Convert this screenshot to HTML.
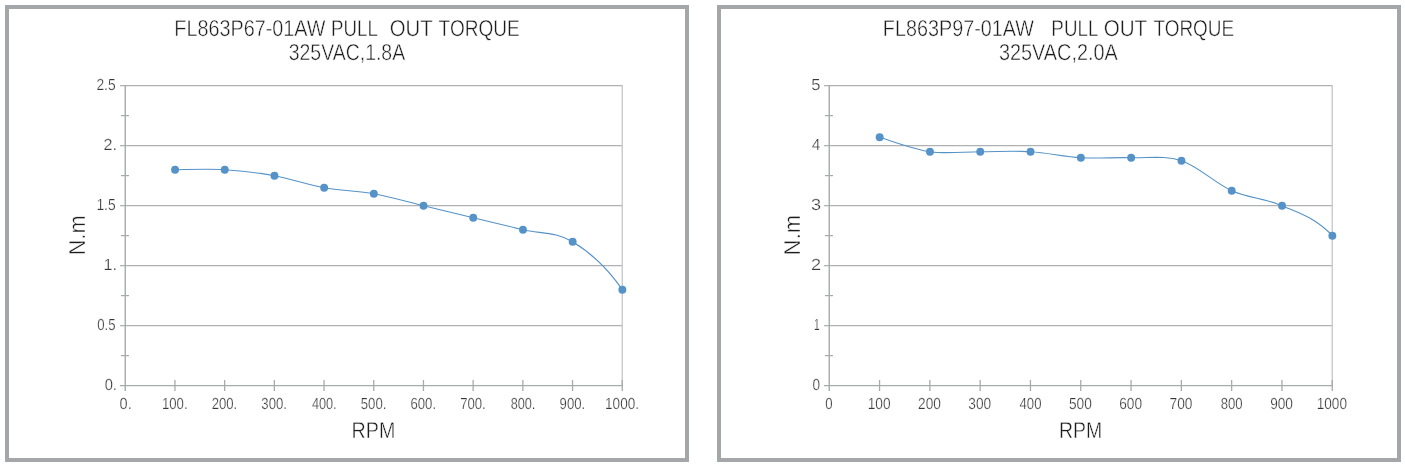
<!DOCTYPE html>
<html><head><meta charset="utf-8"><style>
html,body{margin:0;padding:0;background:#fff;width:1405px;height:467px;overflow:hidden}
svg{display:block;font-family:"Liberation Sans",sans-serif;text-rendering:geometricPrecision}
</style></head><body>
<svg width="1405" height="467" viewBox="0 0 1405 467">
<rect width="1405" height="467" fill="#fff"/>
<g style="will-change:transform">
<rect x="7" y="7" width="680" height="453" fill="none" stroke="#a5a6aa" stroke-width="4"/>
<line x1="120" y1="85.6" x2="622.25" y2="85.6" stroke="#b0b1b5" stroke-width="1.2"/>
<line x1="120" y1="145.6" x2="622.25" y2="145.6" stroke="#b0b1b5" stroke-width="1.2"/>
<line x1="120" y1="205.6" x2="622.25" y2="205.6" stroke="#b0b1b5" stroke-width="1.2"/>
<line x1="120" y1="265.6" x2="622.25" y2="265.6" stroke="#b0b1b5" stroke-width="1.2"/>
<line x1="120" y1="325.6" x2="622.25" y2="325.6" stroke="#b0b1b5" stroke-width="1.2"/>
<line x1="622.25" y1="85" x2="622.25" y2="385" stroke="#c9cacd" stroke-width="1.4"/>
<line x1="120" y1="385.6" x2="622.95" y2="385.6" stroke="#a9aaae" stroke-width="1.2"/>
<line x1="125.25" y1="85" x2="125.25" y2="391" stroke="#a9aaae" stroke-width="1.4"/>
<line x1="121" y1="115.6" x2="129" y2="115.6" stroke="#a9aaae" stroke-width="1.2"/>
<line x1="121" y1="175.6" x2="129" y2="175.6" stroke="#a9aaae" stroke-width="1.2"/>
<line x1="121" y1="235.6" x2="129" y2="235.6" stroke="#a9aaae" stroke-width="1.2"/>
<line x1="121" y1="295.6" x2="129" y2="295.6" stroke="#a9aaae" stroke-width="1.2"/>
<line x1="121" y1="355.6" x2="129" y2="355.6" stroke="#a9aaae" stroke-width="1.2"/>
<line x1="174.95" y1="380" x2="174.95" y2="391" stroke="#a9aaae" stroke-width="1.3"/>
<line x1="224.65" y1="380" x2="224.65" y2="391" stroke="#a9aaae" stroke-width="1.3"/>
<line x1="274.35" y1="380" x2="274.35" y2="391" stroke="#a9aaae" stroke-width="1.3"/>
<line x1="324.05" y1="380" x2="324.05" y2="391" stroke="#a9aaae" stroke-width="1.3"/>
<line x1="373.75" y1="380" x2="373.75" y2="391" stroke="#a9aaae" stroke-width="1.3"/>
<line x1="423.45" y1="380" x2="423.45" y2="391" stroke="#a9aaae" stroke-width="1.3"/>
<line x1="473.15" y1="380" x2="473.15" y2="391" stroke="#a9aaae" stroke-width="1.3"/>
<line x1="522.85" y1="380" x2="522.85" y2="391" stroke="#a9aaae" stroke-width="1.3"/>
<line x1="572.55" y1="380" x2="572.55" y2="391" stroke="#a9aaae" stroke-width="1.3"/>
<line x1="622.25" y1="380" x2="622.25" y2="391" stroke="#a9aaae" stroke-width="1.3"/>
<text transform="translate(104.64,390) scale(0.9182,1)" font-size="16" fill="#383838" xml:space="preserve" stroke="#fff" stroke-width="0.25">0.</text>
<text transform="translate(97.29,330) scale(0.8238,1)" font-size="16" fill="#383838" xml:space="preserve" stroke="#fff" stroke-width="0.25">0.5</text>
<text transform="translate(103.58,270) scale(1.0100,1)" font-size="16" fill="#383838" xml:space="preserve" stroke="#fff" stroke-width="0.25">1.</text>
<text transform="translate(96.40,210) scale(0.8650,1)" font-size="16" fill="#383838" xml:space="preserve" stroke="#fff" stroke-width="0.25">1.5</text>
<text transform="translate(103.58,150) scale(1.0100,1)" font-size="16" fill="#383838" xml:space="preserve" stroke="#fff" stroke-width="0.25">2.</text>
<text transform="translate(96.40,90) scale(0.8650,1)" font-size="16" fill="#383838" xml:space="preserve" stroke="#fff" stroke-width="0.25">2.5</text>
<text transform="translate(119.55,408.6) scale(0.9091,1)" font-size="16" fill="#383838" xml:space="preserve" stroke="#fff" stroke-width="0.25">0.</text>
<text transform="translate(161.97,408.6) scale(0.8214,1)" font-size="16" fill="#383838" xml:space="preserve" stroke="#fff" stroke-width="0.25">100.</text>
<text transform="translate(211.67,408.6) scale(0.8214,1)" font-size="16" fill="#383838" xml:space="preserve" stroke="#fff" stroke-width="0.25">200.</text>
<text transform="translate(261.37,408.6) scale(0.8214,1)" font-size="16" fill="#383838" xml:space="preserve" stroke="#fff" stroke-width="0.25">300.</text>
<text transform="translate(311.90,408.6) scale(0.7931,1)" font-size="16" fill="#383838" xml:space="preserve" stroke="#fff" stroke-width="0.25">400.</text>
<text transform="translate(360.77,408.6) scale(0.8214,1)" font-size="16" fill="#383838" xml:space="preserve" stroke="#fff" stroke-width="0.25">500.</text>
<text transform="translate(410.47,408.6) scale(0.8214,1)" font-size="16" fill="#383838" xml:space="preserve" stroke="#fff" stroke-width="0.25">600.</text>
<text transform="translate(460.17,408.6) scale(0.8214,1)" font-size="16" fill="#383838" xml:space="preserve" stroke="#fff" stroke-width="0.25">700.</text>
<text transform="translate(510.70,408.6) scale(0.7931,1)" font-size="16" fill="#383838" xml:space="preserve" stroke="#fff" stroke-width="0.25">800.</text>
<text transform="translate(559.57,408.6) scale(0.8214,1)" font-size="16" fill="#383838" xml:space="preserve" stroke="#fff" stroke-width="0.25">900.</text>
<text transform="translate(605.08,408.6) scale(0.8459,1)" font-size="16" fill="#383838" xml:space="preserve" stroke="#fff" stroke-width="0.25">1000.</text>
<text transform="translate(174.35,35.7) scale(0.8610,1)" font-size="23" fill="#1c1c1c" xml:space="preserve" stroke="#fff" stroke-width="0.45">FL863P67-01AW</text>
<text transform="translate(330.96,35.7) scale(0.8148,1)" font-size="23" fill="#1c1c1c" xml:space="preserve" stroke="#fff" stroke-width="0.45">PULL</text>
<text transform="translate(389.67,35.7) scale(0.8848,1)" font-size="23" fill="#1c1c1c" xml:space="preserve" stroke="#fff" stroke-width="0.45">OUT</text>
<text transform="translate(438.59,35.7) scale(0.8292,1)" font-size="23" fill="#1c1c1c" xml:space="preserve" stroke="#fff" stroke-width="0.45">TORQUE</text>
<text transform="translate(288.73,60.3) scale(0.8456,1)" font-size="23" fill="#1c1c1c" xml:space="preserve" stroke="#fff" stroke-width="0.45">325VAC,1.8A</text>
<text transform="translate(85,255.37) rotate(-90) scale(0.9474,1)" font-size="23" fill="#1c1c1c" stroke="#fff" stroke-width="0.45">N.m</text>
<text transform="translate(351.56,438) scale(0.8574,1)" font-size="23" fill="#1c1c1c" xml:space="preserve" stroke="#fff" stroke-width="0.45">RPM</text>
<path d="M175.05,169.70 C183.33,169.70 208.18,168.70 224.75,169.70 C241.32,170.70 257.88,172.70 274.45,175.70 C291.02,178.70 307.58,184.70 324.15,187.70 C340.72,190.70 357.28,190.70 373.85,193.70 C390.42,196.70 406.98,201.70 423.55,205.70 C440.12,209.70 456.68,213.70 473.25,217.70 C489.82,221.70 506.38,225.70 522.95,229.70 C539.52,233.70 556.08,231.70 572.65,241.70 C589.22,251.70 605.78,265.70 622.35,289.70" fill="none" stroke="#5592c8" stroke-width="1.15"/>
<circle cx="175.05" cy="169.70" r="3.95" fill="#5592c8"/>
<circle cx="224.75" cy="169.70" r="3.95" fill="#5592c8"/>
<circle cx="274.45" cy="175.70" r="3.95" fill="#5592c8"/>
<circle cx="324.15" cy="187.70" r="3.95" fill="#5592c8"/>
<circle cx="373.85" cy="193.70" r="3.95" fill="#5592c8"/>
<circle cx="423.55" cy="205.70" r="3.95" fill="#5592c8"/>
<circle cx="473.25" cy="217.70" r="3.95" fill="#5592c8"/>
<circle cx="522.95" cy="229.70" r="3.95" fill="#5592c8"/>
<circle cx="572.65" cy="241.70" r="3.95" fill="#5592c8"/>
<circle cx="622.35" cy="289.70" r="3.95" fill="#5592c8"/>
<rect x="719" y="7" width="680" height="453" fill="none" stroke="#a5a6aa" stroke-width="4"/>
<line x1="824" y1="85.6" x2="1332.25" y2="85.6" stroke="#b0b1b5" stroke-width="1.2"/>
<line x1="824" y1="145.6" x2="1332.25" y2="145.6" stroke="#b0b1b5" stroke-width="1.2"/>
<line x1="824" y1="205.6" x2="1332.25" y2="205.6" stroke="#b0b1b5" stroke-width="1.2"/>
<line x1="824" y1="265.6" x2="1332.25" y2="265.6" stroke="#b0b1b5" stroke-width="1.2"/>
<line x1="824" y1="325.6" x2="1332.25" y2="325.6" stroke="#b0b1b5" stroke-width="1.2"/>
<line x1="1332.25" y1="85" x2="1332.25" y2="385" stroke="#c9cacd" stroke-width="1.4"/>
<line x1="824" y1="385.6" x2="1332.95" y2="385.6" stroke="#a9aaae" stroke-width="1.2"/>
<line x1="829.25" y1="85" x2="829.25" y2="391" stroke="#a9aaae" stroke-width="1.4"/>
<line x1="825" y1="115.6" x2="833" y2="115.6" stroke="#a9aaae" stroke-width="1.2"/>
<line x1="825" y1="175.6" x2="833" y2="175.6" stroke="#a9aaae" stroke-width="1.2"/>
<line x1="825" y1="235.6" x2="833" y2="235.6" stroke="#a9aaae" stroke-width="1.2"/>
<line x1="825" y1="295.6" x2="833" y2="295.6" stroke="#a9aaae" stroke-width="1.2"/>
<line x1="825" y1="355.6" x2="833" y2="355.6" stroke="#a9aaae" stroke-width="1.2"/>
<line x1="879.55" y1="380" x2="879.55" y2="391" stroke="#a9aaae" stroke-width="1.3"/>
<line x1="929.85" y1="380" x2="929.85" y2="391" stroke="#a9aaae" stroke-width="1.3"/>
<line x1="980.15" y1="380" x2="980.15" y2="391" stroke="#a9aaae" stroke-width="1.3"/>
<line x1="1030.45" y1="380" x2="1030.45" y2="391" stroke="#a9aaae" stroke-width="1.3"/>
<line x1="1080.75" y1="380" x2="1080.75" y2="391" stroke="#a9aaae" stroke-width="1.3"/>
<line x1="1131.05" y1="380" x2="1131.05" y2="391" stroke="#a9aaae" stroke-width="1.3"/>
<line x1="1181.35" y1="380" x2="1181.35" y2="391" stroke="#a9aaae" stroke-width="1.3"/>
<line x1="1231.65" y1="380" x2="1231.65" y2="391" stroke="#a9aaae" stroke-width="1.3"/>
<line x1="1281.95" y1="380" x2="1281.95" y2="391" stroke="#a9aaae" stroke-width="1.3"/>
<line x1="1332.25" y1="380" x2="1332.25" y2="391" stroke="#a9aaae" stroke-width="1.3"/>
<text transform="translate(812.38,390) scale(0.8500,1)" font-size="16" fill="#383838" xml:space="preserve" stroke="#fff" stroke-width="0.25">0</text>
<text transform="translate(814.05,330) scale(0.6333,1)" font-size="16" fill="#383838" xml:space="preserve" stroke="#fff" stroke-width="0.25">1</text>
<text transform="translate(811.10,270) scale(1.1333,1)" font-size="16" fill="#383838" xml:space="preserve" stroke="#fff" stroke-width="0.25">2</text>
<text transform="translate(811.10,210) scale(1.1333,1)" font-size="16" fill="#383838" xml:space="preserve" stroke="#fff" stroke-width="0.25">3</text>
<text transform="translate(811.72,150) scale(0.9625,1)" font-size="16" fill="#383838" xml:space="preserve" stroke="#fff" stroke-width="0.25">4</text>
<text transform="translate(811.25,90) scale(1.0333,1)" font-size="16" fill="#383838" xml:space="preserve" stroke="#fff" stroke-width="0.25">5</text>
<text transform="translate(825.29,408.6) scale(0.8250,1)" font-size="16" fill="#383838" xml:space="preserve" stroke="#fff" stroke-width="0.25">0</text>
<text transform="translate(867.77,408.6) scale(0.8542,1)" font-size="16" fill="#383838" xml:space="preserve" stroke="#fff" stroke-width="0.25">100</text>
<text transform="translate(918.07,408.6) scale(0.8542,1)" font-size="16" fill="#383838" xml:space="preserve" stroke="#fff" stroke-width="0.25">200</text>
<text transform="translate(968.37,408.6) scale(0.8542,1)" font-size="16" fill="#383838" xml:space="preserve" stroke="#fff" stroke-width="0.25">300</text>
<text transform="translate(1019.54,408.6) scale(0.8200,1)" font-size="16" fill="#383838" xml:space="preserve" stroke="#fff" stroke-width="0.25">400</text>
<text transform="translate(1068.97,408.6) scale(0.8542,1)" font-size="16" fill="#383838" xml:space="preserve" stroke="#fff" stroke-width="0.25">500</text>
<text transform="translate(1119.27,408.6) scale(0.8542,1)" font-size="16" fill="#383838" xml:space="preserve" stroke="#fff" stroke-width="0.25">600</text>
<text transform="translate(1169.57,408.6) scale(0.8542,1)" font-size="16" fill="#383838" xml:space="preserve" stroke="#fff" stroke-width="0.25">700</text>
<text transform="translate(1220.74,408.6) scale(0.8200,1)" font-size="16" fill="#383838" xml:space="preserve" stroke="#fff" stroke-width="0.25">800</text>
<text transform="translate(1270.17,408.6) scale(0.8542,1)" font-size="16" fill="#383838" xml:space="preserve" stroke="#fff" stroke-width="0.25">900</text>
<text transform="translate(1316.73,408.6) scale(0.8485,1)" font-size="16" fill="#383838" xml:space="preserve" stroke="#fff" stroke-width="0.25">1000</text>
<text transform="translate(882.85,35.7) scale(0.8605,1)" font-size="23" fill="#1c1c1c" xml:space="preserve" stroke="#fff" stroke-width="0.45">FL863P97-01AW</text>
<text transform="translate(1051.36,35.7) scale(0.8167,1)" font-size="23" fill="#1c1c1c" xml:space="preserve" stroke="#fff" stroke-width="0.45">PULL</text>
<text transform="translate(1103.65,35.7) scale(0.8978,1)" font-size="23" fill="#1c1c1c" xml:space="preserve" stroke="#fff" stroke-width="0.45">OUT</text>
<text transform="translate(1153.39,35.7) scale(0.8250,1)" font-size="23" fill="#1c1c1c" xml:space="preserve" stroke="#fff" stroke-width="0.45">TORQUE</text>
<text transform="translate(998.91,60.3) scale(0.8632,1)" font-size="23" fill="#1c1c1c" xml:space="preserve" stroke="#fff" stroke-width="0.45">325VAC,2.0A</text>
<text transform="translate(800,255.41) rotate(-90) scale(0.9658,1)" font-size="23" fill="#1c1c1c" stroke="#fff" stroke-width="0.45">N.m</text>
<text transform="translate(1058.88,438) scale(0.8468,1)" font-size="23" fill="#1c1c1c" xml:space="preserve" stroke="#fff" stroke-width="0.45">RPM</text>
<path d="M879.65,137.30 C888.03,139.70 913.18,149.30 929.95,151.70 C946.72,154.10 963.48,151.70 980.25,151.70 C997.02,151.70 1013.78,150.70 1030.55,151.70 C1047.32,152.70 1064.08,156.70 1080.85,157.70 C1097.62,158.70 1114.38,157.20 1131.15,157.70 C1147.92,158.20 1164.68,155.20 1181.45,160.70 C1198.22,166.20 1214.98,183.20 1231.75,190.70 C1248.52,198.20 1265.28,198.20 1282.05,205.70 C1298.82,213.20 1315.58,217.70 1332.35,235.70" fill="none" stroke="#5592c8" stroke-width="1.15"/>
<circle cx="879.65" cy="137.30" r="3.95" fill="#5592c8"/>
<circle cx="929.95" cy="151.70" r="3.95" fill="#5592c8"/>
<circle cx="980.25" cy="151.70" r="3.95" fill="#5592c8"/>
<circle cx="1030.55" cy="151.70" r="3.95" fill="#5592c8"/>
<circle cx="1080.85" cy="157.70" r="3.95" fill="#5592c8"/>
<circle cx="1131.15" cy="157.70" r="3.95" fill="#5592c8"/>
<circle cx="1181.45" cy="160.70" r="3.95" fill="#5592c8"/>
<circle cx="1231.75" cy="190.70" r="3.95" fill="#5592c8"/>
<circle cx="1282.05" cy="205.70" r="3.95" fill="#5592c8"/>
<circle cx="1332.35" cy="235.70" r="3.95" fill="#5592c8"/>
</g>
</svg>
</body></html>
